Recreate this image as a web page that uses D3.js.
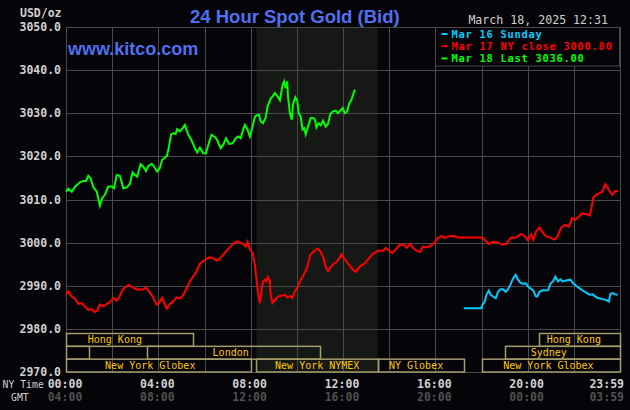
<!DOCTYPE html>
<html>
<head>
<meta charset="utf-8">
<script src="https://cdn.jsdelivr.net/npm/d3@7"></script>
<style>
    body { margin: 0; background: #050408; }
    svg { display: block; }
    .mono { font-family: "DejaVu Sans Mono", monospace; }
</style>
</head>
<body>
<script>
// Mar 16 (Sunday evening) -- minutes after midnight NY time / price
const mar16Minutes = [1034,1080,1082,1088,1093,1099,1104,1110,1117,1123,1129,1136,1143,1149,1155,1162,1169,1175,1181,1188,1195,1201,1207,1214,1221,1225,1231,1240,1247,1253,1260,1266,1272,1279,1285,1291,1300,1311,1317,1326,1335,1343,1352,1361,1369,1376,1385,1394,1404,1411,1415,1421,1428,1434];
const mar16Prices = [2984.8,2984.8,2985.5,2986.3,2987.9,2988.9,2987.9,2987.5,2987.1,2988.6,2989.2,2989.2,2988.6,2989.2,2990.2,2991.7,2992.5,2991.4,2990.7,2990.4,2990.6,2989.8,2989.4,2989.0,2987.6,2987.5,2988.6,2989.0,2988.9,2989.0,2990.6,2991.0,2992.1,2991.0,2991.5,2991.0,2991.2,2991.4,2990.7,2990.0,2989.4,2988.9,2988.4,2987.9,2988.0,2987.5,2987.1,2986.9,2986.7,2986.3,2988.1,2988.3,2988.0,2987.9];

// Mar 17
const mar17Minutes = [0,6,15,23,32,41,49,58,67,75,81,88,97,106,114,123,132,138,147,156,164,173,182,192,201,208,216,225,236,242,250,255,262,270,279,287,296,305,313,322,331,339,348,357,365,374,383,391,400,409,417,426,434,443,452,460,467,472,478,485,491,495,499,504,508,512,517,521,525,530,532,537,543,551,560,569,575,582,588,595,601,610,618,627,635,644,653,660,668,675,681,687,696,703,710,716,730,743,753,764,774,784,798,811,824,831,840,848,857,867,878,886,895,902,912,921,928,938,950,958,967,976,984,997,1008,1019,1032,1049,1067,1080,1088,1099,1110,1123,1134,1144,1157,1166,1175,1183,1192,1201,1209,1215,1222,1231,1240,1248,1259,1270,1278,1287,1296,1307,1316,1324,1333,1342,1352,1361,1365,1371,1378,1387,1394,1402,1411,1420,1428,1435];
const mar17Prices = [2987.9,2988.7,2987.5,2987.0,2985.8,2986.0,2985.2,2984.4,2984.6,2983.9,2984.2,2985.6,2985.2,2985.8,2986.2,2987.2,2986.5,2987.2,2989.1,2989.8,2990.2,2989.6,2989.2,2989.1,2989.2,2989.6,2988.7,2987.5,2985.6,2986.0,2987.3,2986.0,2984.7,2985.8,2986.4,2987.3,2987.0,2987.9,2989.3,2991.0,2992.2,2993.3,2995.1,2995.7,2996.3,2996.6,2996.4,2995.8,2996.3,2997.2,2998.1,2998.9,2999.7,3000.3,3000.0,2999.7,2999.1,3000.2,2998.4,2997.6,2994.9,2991.7,2988.3,2986.0,2988.7,2991.0,2991.4,2991.0,2992.0,2991.0,2987.9,2986.0,2986.7,2987.5,2987.7,2987.9,2987.3,2987.6,2987.2,2988.7,2989.5,2991.4,2992.5,2994.4,2997.2,2998.0,2998.6,2998.1,2996.8,2994.4,2993.4,2994.2,2995.1,2995.5,2996.3,2997.3,2995.5,2994.0,2993.2,2994.5,2995.0,2996.0,2997.4,2998.1,2998.1,2998.8,2998.1,2997.6,2998.4,2999.5,2999.5,2998.8,2999.7,2998.8,2998.1,2997.8,2999.1,2998.9,2999.4,3000.0,3001.1,3001.5,3001.1,3001.5,3001.6,3001.2,3001.2,3001.2,3001.2,3001.2,3000.7,2999.7,3000.2,3000.0,2999.5,2999.7,3001.2,3001.1,3001.5,3002.0,3001.5,3000.5,3001.9,3000.7,3002.6,3003.5,3002.2,3001.5,3001.1,3000.7,3001.5,3003.5,3004.1,3003.7,3005.7,3005.3,3006.0,3006.8,3006.6,3006.3,3007.6,3010.5,3011.1,3011.5,3011.8,3013.6,3012.2,3011.1,3012.0,3012.0];

// Mar 18 (today, up to 12:31)
const mar18Minutes = [0,6,15,23,36,45,52,58,64,71,80,88,94,101,110,119,125,132,140,149,158,166,173,179,185,194,201,208,214,223,229,237,244,250,262,266,273,279,285,289,296,303,309,318,326,335,341,348,357,364,370,378,387,393,402,409,416,424,433,441,448,454,459,465,472,478,484,491,497,502,506,512,519,524,532,537,543,548,556,563,567,571,575,577,582,587,590,596,601,605,610,615,619,623,629,636,642,647,651,657,662,668,675,681,687,693,701,707,713,719,725,731,736,742,746,751];
const mar18Prices = [3011.8,3012.5,3011.8,3012.9,3014.0,3014.3,3014.3,3015.5,3014.9,3012.9,3011.8,3008.6,3010.3,3011.1,3013.0,3013.0,3012.6,3015.7,3015.5,3012.6,3012.8,3013.6,3016.3,3015.7,3015.3,3018.2,3017.6,3016.6,3017.8,3018.3,3017.6,3016.5,3017.3,3019.2,3020.1,3021.5,3025.0,3025.4,3025.2,3026.3,3025.8,3026.5,3027.3,3025.0,3023.8,3021.9,3020.9,3022.0,3020.7,3020.7,3022.7,3025.0,3024.5,3023.8,3021.9,3022.7,3024.2,3022.9,3023.0,3024.2,3024.6,3024.2,3025.8,3027.3,3026.2,3024.6,3026.5,3029.2,3029.6,3029.6,3028.1,3027.7,3029.0,3031.6,3033.4,3033.9,3034.7,3034.1,3033.0,3036.6,3037.4,3035.8,3037.4,3033.9,3030.0,3028.5,3032.0,3033.7,3032.9,3030.0,3029.2,3026.2,3026.5,3025.1,3026.9,3028.9,3028.9,3028.6,3026.7,3027.7,3027.2,3028.3,3026.9,3027.5,3029.8,3030.4,3030.6,3030.0,3030.6,3031.2,3030.0,3030.4,3032.3,3033.1,3034.3,3035.5];

const seriesNames = ["Mar 16 Sunday", "Mar 17 NY close 3000.80", "Mar 18 Last 3036.00"];
const seriesColors = ["#00ccff", "#ff0000", "#00ff00"];

const yTickValues = [2970, 2980, 2990, 3000, 3010, 3020, 3030, 3040, 3050];
const timeTickMinutes = [0, 240, 480, 720, 960, 1200, 1439];
const nyTimeLabels = ["00:00", "04:00", "08:00", "12:00", "16:00", "20:00", "23:59"];
const gmtLabels = ["04:00", "08:00", "12:00", "16:00", "20:00", "00:00", "03:59"];

// trading sessions (minutes NY time), row 0 = top
const sessionNames = ["Hong Kong", "Hong Kong", "", "London", "Sydney", "New York Globex", "New York NYMEX", "NY Globex", "New York Globex"];
const sessionStart = [0, 1230, 0, 210, 1140, 0, 495, 810, 1080];
const sessionEnd = [330, 1440, 60, 660, 1440, 480, 810, 1035, 1440];
const sessionRow = [0, 0, 1, 1, 1, 2, 2, 2, 2];
const sessionLabelAt = [127, 1320, 0, 428, 1255, 219, 653, 910, 1254];

// NYMEX floor hours shading
const floorStart = 495, floorEnd = 810;

const svgWidth = 630;
const svgHeight = 410;
const plot = {left: 66, right: 620, top: 27, bottom: 372};

const bg = "#050408";
const gridColor = "#4a4a4a";
const labelColor = "#d0d0d0";

window.onload = main;

function main() {
    const svg = d3.select("body").append("svg")
        .attr("width", svgWidth)
        .attr("height", svgHeight);

    svg.append("rect")
        .attr("width", svgWidth).attr("height", svgHeight)
        .attr("fill", bg);

    const x = d3.scaleLinear().domain([0, 1440]).range([plot.left, plot.right]);
    const y = d3.scaleLinear().domain([2970, 3050]).range([plot.bottom, plot.top]);
    const crisp = v => Math.round(v) + 0.5;

    // floor session shading
    svg.append("rect")
        .attr("x", x(floorStart)).attr("y", plot.top)
        .attr("width", x(floorEnd) - x(floorStart))
        .attr("height", plot.bottom - plot.top)
        .attr("fill", "#161815");

    // grid
    const grid = svg.append("g").attr("stroke", gridColor).attr("stroke-width", 1);
    grid.selectAll(null)
        .data(yTickValues)
        .join("line")
        .attr("x1", plot.left).attr("x2", crisp(x(1440)))
        .attr("y1", d => crisp(y(d))).attr("y2", d => crisp(y(d)));
    grid.selectAll(null)
        .data(d3.range(0, 1441, 120))
        .join("line")
        .attr("x1", d => crisp(x(d))).attr("x2", d => crisp(x(d)))
        .attr("y1", crisp(plot.top)).attr("y2", crisp(plot.bottom));

    // y labels
    svg.append("g")
        .selectAll(null)
        .data(yTickValues)
        .join("text")
        .attr("class", "mono")
        .attr("x", 61)
        .attr("y", d => y(d) + 4)
        .attr("text-anchor", "end")
        .attr("fill", labelColor)
        .style("font-size", "11.5px")
        .style("font-weight", "bold")
        .text(d => d.toFixed(1));

    svg.append("text")
        .attr("class", "mono")
        .attr("x", 20).attr("y", 17)
        .attr("fill", labelColor)
        .style("font-size", "11.5px")
        .style("font-weight", "bold")
        .text("USD/oz");

    // sessions bars
    const rowTop = 333.5, rowH = (plot.bottom - rowTop) / 3;
    const sessions = sessionNames.map((name, i) => ({
        name, start: sessionStart[i], end: sessionEnd[i], row: sessionRow[i], at: sessionLabelAt[i]
    }));
    const sg = svg.append("g");
    sg.selectAll("rect")
        .data(sessions)
        .join("rect")
        .attr("x", d => crisp(x(d.start)))
        .attr("y", d => rowTop + d.row * rowH)
        .attr("width", d => crisp(x(d.end)) - crisp(x(d.start)))
        .attr("height", rowH)
        .attr("fill", "none")
        .attr("stroke", "#a39c6c")
        .attr("stroke-width", 1.5);
    sg.selectAll("text")
        .data(sessions.filter(d => d.name))
        .join("text")
        .attr("class", "mono")
        .attr("x", d => x(d.at))
        .attr("y", d => rowTop + d.row * rowH + rowH - 3)
        .attr("text-anchor", "middle")
        .attr("fill", "#ffc800")
        .style("font-size", "10px")
        .text(d => d.name);

    // series lines
    const series = [
        {min: mar16Minutes, price: mar16Prices},
        {min: mar17Minutes, price: mar17Prices},
        {min: mar18Minutes, price: mar18Prices}
    ];
    const line = d3.line()
        .x(d => x(d[0]))
        .y(d => y(d[1]));
    svg.append("g")
        .selectAll("path")
        .data(series)
        .join("path")
        .attr("d", s => line(s.min.map((m, i) => [m, s.price[i]])))
        .attr("fill", "none")
        .attr("stroke", (s, i) => seriesColors[i])
        .attr("stroke-width", 2)
        .attr("stroke-linejoin", "miter");

    // legend
    const legend = svg.append("g");
    legend.append("rect")
        .attr("x", 435.5).attr("y", 27.5)
        .attr("width", 184).attr("height", 38.5)
        .attr("fill", bg)
        .attr("stroke", gridColor);
    const rows = legend.selectAll("g.row")
        .data(seriesNames)
        .join("g")
        .attr("class", "row")
        .attr("transform", (d, i) => `translate(441, ${38 + i * 12.2})`);
    rows.append("line")
        .attr("x1", 0.5).attr("x2", 6.5)
        .attr("y1", -4).attr("y2", -4)
        .attr("stroke", (d, i) => seriesColors[i])
        .attr("stroke-width", 2);
    rows.append("text")
        .attr("class", "mono")
        .attr("x", 10.5)
        .attr("fill", (d, i) => seriesColors[i])
        .style("font-size", "10.4px")
        .style("letter-spacing", "0.75px")
        .style("font-weight", "bold")
        .text(d => d);

    // titles
    svg.append("text")
        .attr("x", 190).attr("y", 22.5)
        .attr("fill", "#5070f0")
        .style("font-family", "'Liberation Sans', Arial, sans-serif")
        .style("font-weight", "bold")
        .style("font-size", "18.5px")
        .text("24 Hour Spot Gold (Bid)");
    svg.append("text")
        .attr("x", 68).attr("y", 55)
        .attr("fill", "#5070f0")
        .style("font-family", "'Liberation Sans', Arial, sans-serif")
        .style("font-weight", "bold")
        .style("font-size", "18px")
        .text("www.kitco.com");
    svg.append("text")
        .attr("class", "mono")
        .attr("x", 608).attr("y", 24)
        .attr("text-anchor", "end")
        .attr("fill", labelColor)
        .style("font-size", "11.6px")
        .text("March 18, 2025 12:31");

    // time axis labels
    const last = timeTickMinutes.length - 1;
    const tx = (d, i) => i === last ? 624 : x(d) - 1;
    const anchor = (d, i) => i === last ? "end" : "middle";
    svg.append("g")
        .selectAll(null)
        .data(timeTickMinutes)
        .join("text")
        .attr("class", "mono")
        .attr("x", tx).attr("y", 387.5)
        .attr("text-anchor", anchor)
        .attr("fill", labelColor)
        .style("font-size", "11.5px")
        .style("font-weight", "bold")
        .text((d, i) => nyTimeLabels[i]);
    svg.append("g")
        .selectAll(null)
        .data(timeTickMinutes)
        .join("text")
        .attr("class", "mono")
        .attr("x", tx).attr("y", 400.5)
        .attr("text-anchor", anchor)
        .attr("fill", "#505050")
        .style("font-size", "11.5px")
        .style("font-weight", "bold")
        .text((d, i) => gmtLabels[i]);

    svg.append("text")
        .attr("class", "mono")
        .attr("x", 2.5).attr("y", 387.5)
        .attr("fill", labelColor)
        .style("font-size", "9.8px")
        .text("NY Time");
    svg.append("text")
        .attr("class", "mono")
        .attr("x", 11).attr("y", 400.5)
        .attr("fill", labelColor)
        .style("font-size", "9.8px")
        .text("GMT");
}
</script>
</body>
</html>
